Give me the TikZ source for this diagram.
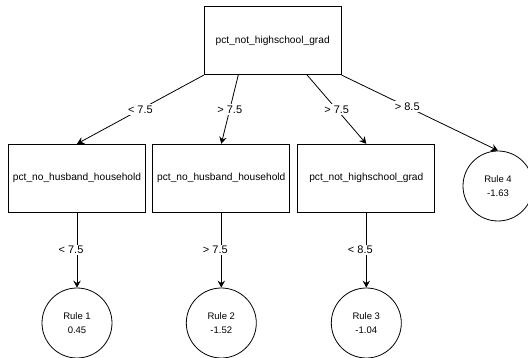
\documentclass[tikz,border=0pt]{standalone}
\usepackage{fontspec}
\setmainfont{Liberation Sans}
\usetikzlibrary{arrows.meta,calc}

\begin{document}
\begin{tikzpicture}[x=1pt, y=-1pt, line width=0.8pt,
    every node/.style={font=\fontsize{10.2}{12.5}\selectfont},
    split/.style={draw, minimum width=137pt, minimum height=68pt, inner sep=0pt},
    rule/.style={draw, circle, minimum size=70pt, inner sep=0pt, align=center,
      font=\fontsize{9.5}{14}\selectfont},
    cond/.style={fill=white, inner sep=1.5pt, font=\fontsize{11}{13}\selectfont},
    edge/.style={-{Stealth[length=7pt, width=7.5pt, inset=2.5pt]}}]
  \useasboundingbox (0,0) rectangle (528,358);
  \node[split] (root) at (272.7,40.7) {pct\_not\_highschool\_grad};
  \node[split] (hh1) at (77,178.2) {pct\_no\_husband\_household};
  \node[split] (hh2) at (221.3,178.2) {pct\_no\_husband\_household};
  \node[split] (hs) at (366.3,178.2) {pct\_not\_highschool\_grad};
  \node[rule] (r1) at (77,323) {Rule 1\\0.45};
  \node[rule] (r2) at (221.3,323) {Rule 2\\-1.52};
  \node[rule] (r3) at (366.3,323) {Rule 3\\-1.04};
  \node[rule] (r4) at (498,186) {Rule 4\\-1.63};
  \draw[edge] (root.south west) -- node[cond] {< 7.5} (hh1.north);
  \draw[edge] ($(root.south west)!0.25!(root.south east)$) -- node[cond] {> 7.5} (hh2.north);
  \draw[edge] ($(root.south west)!0.75!(root.south east)$) -- node[cond] {> 7.5} (hs.north);
  \draw[edge] (root.south east) -- node[cond, pos=0.42] {> 8.5} (r4.north);
  \draw[edge] (hh1) -- node[cond, xshift=-6pt] {< 7.5} (r1);
  \draw[edge] (hh2) -- node[cond, xshift=-6pt] {> 7.5} (r2);
  \draw[edge] (hs) -- node[cond, xshift=-6pt] {< 8.5} (r3);
\end{tikzpicture}
\end{document}
